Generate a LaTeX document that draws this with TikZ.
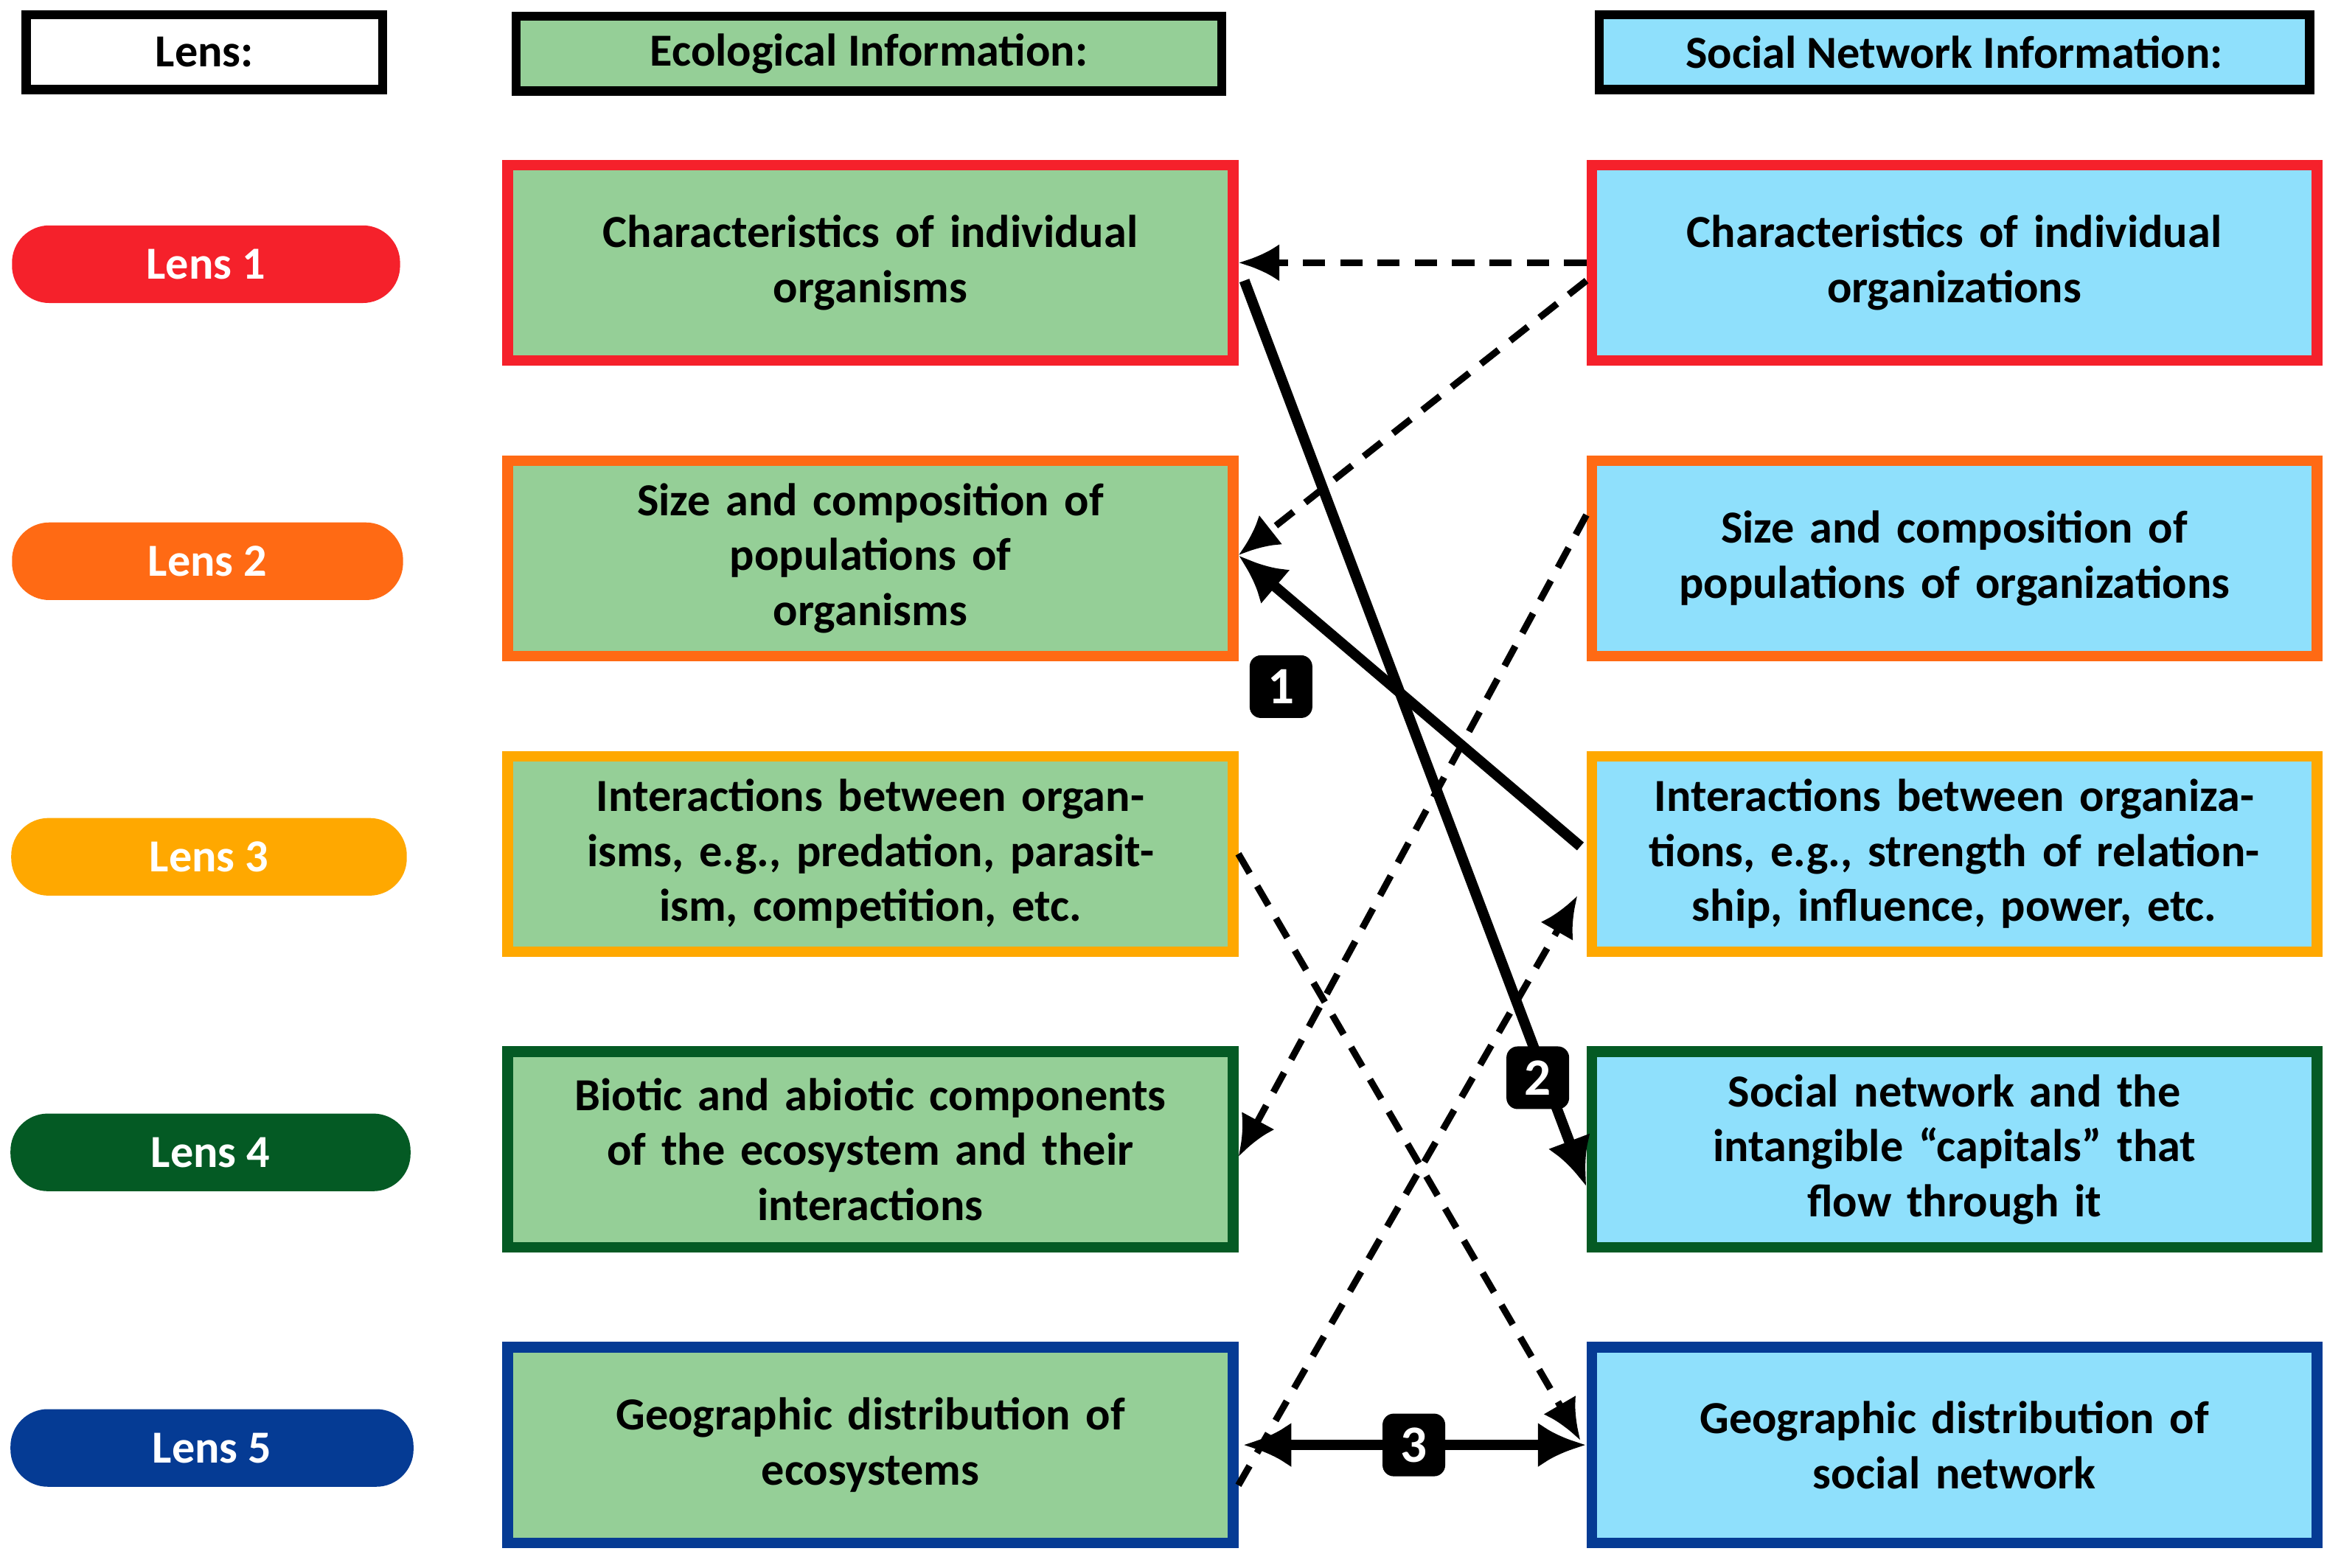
\documentclass[tikz,border=0pt]{standalone}
\usepackage{fontspec}
\setmainfont{Carlito}
\usetikzlibrary{arrows.meta,calc}
\definecolor{cred}{HTML}{F5212B}
\definecolor{corg}{HTML}{FF6A14}
\definecolor{cyel}{HTML}{FFA800}
\definecolor{cdg}{HTML}{045A24}
\definecolor{cblu}{HTML}{053B94}
\definecolor{gfill}{HTML}{95CF97}
\definecolor{bfill}{HTML}{8FE0FC}
\tikzset{
  box/.style={draw, line width=0.14cm, minimum width=9.72cm, minimum height=2.62cm, text width=9.2cm, align=center, font=\fontsize{17.5}{21}\selectfont\bfseries, inner sep=0pt},
  lbox/.style={box, fill=gfill},
  rbox/.style={box, fill=bfill},
  hdr/.style={draw, line width=0.12cm, minimum height=1.0cm, font=\fontsize{17.5}{21}\selectfont\bfseries, inner sep=0pt},
  pill/.style={rounded corners=0.5cm, minimum height=1.04cm, text=white, font=\fontsize{17.5}{21}\selectfont\bfseries, inner sep=0pt},
  num/.style={fill=black, text=white, rounded corners=0.15cm, minimum size=0.84cm, inner sep=0pt, font=\fontsize{20}{22}\selectfont\bfseries},
  dsh/.style={line width=0.09cm, dash pattern=on 0.3cm off 0.2cm, -{Latex[length=0.55cm,width=0.5cm]}},
  sol/.style={line width=0.14cm, -{Latex[length=0.65cm,width=0.6cm]}},
}
\begin{document}
\begin{tikzpicture}[x=0.02cm,y=-0.02cm]
\useasboundingbox (0,0) rectangle (1568,1050);
\node[hdr, minimum width=4.78cm, fill=white] (h0) at (137,35) {Lens:};
\node[hdr, minimum width=9.46cm, fill=gfill] (h1) at (582,36) {Ecological Information:};
\node[hdr, minimum width=9.52cm, fill=bfill] (h2) at (1309,35) {Social Network Information:};
\node[pill, fill=cred, minimum width=5.2cm] (p1) at (138,177) {Lens 1};
\node[pill, fill=corg, minimum width=5.24cm] (p2) at (139,376) {Lens 2};
\node[pill, fill=cyel, minimum width=5.3cm] (p3) at (140,574) {Lens 3};
\node[pill, fill=cdg, minimum width=5.36cm] (p4) at (141,772) {Lens 4};
\node[pill, fill=cblu, minimum width=5.4cm] (p5) at (142,970) {Lens 5};
\node[lbox, draw=cred] (l1) at (583,176) {Characteristics of individual\\organisms\\[0.35cm]};
\node[lbox, draw=corg] (l2) at (583,374) {Size and composition of\\populations of\\organisms};
\node[lbox, draw=cyel] (l3) at (583,572) {Interactions between organ-\\isms, e.g., predation, parasit-\\ism, competition, etc.};
\node[lbox, draw=cdg] (l4) at (583,770) {Biotic and abiotic components\\of the ecosystem and their\\interactions};
\node[lbox, draw=cblu] (l5) at (583,968) {Geographic distribution of\\ecosystems};
\node[rbox, draw=cred] (r1) at (1309,176) {Characteristics of individual\\organizations};
\node[rbox, draw=corg] (r2) at (1309,374) {Size and composition of\\populations of organizations};
\node[rbox, draw=cyel] (r3) at (1309,572) {Interactions between organiza-\\tions, e.g., strength of relation-\\ship, influence, power, etc.};
\node[rbox, draw=cdg] (r4) at (1309,770) {Social network and the\\intangible “capitals” that\\flow through it};
\node[rbox, draw=cblu] (r5) at (1309,968) {Geographic distribution of\\social network};
% arrows
\draw[dsh] (r1.west) -- (l1.east);
\draw[dsh] ($(r1.west)+(0,12)$) -- ($(l2.east)+(0,-2)$);
\draw[dsh] ($(r2.west)+(0,-29)$) -- ($(l4.east)+(0,5)$);
\draw[dsh] ($(l3.east)+(0,0)$) -- ($(r5.west)+(-4,-3)$);
\draw[dsh] ($(l5.east)+(0,27)$) -- ($(r3.west)+(-6,28)$);
\draw[sol] ($(l1.east)+(4,12)$) -- ($(r4.west)+(0,25)$);
\draw[sol] ($(r3.west)+(-4,-5)$) -- ($(l2.east)+(0,-2)$);
\draw[line width=0.14cm, {Latex[length=0.65cm,width=0.6cm]}-{Latex[length=0.65cm,width=0.6cm]}] ($(l5.east)+(3,0)$) -- ($(r5.west)+(0,0)$);
\node[num] (n1) at (858,460) {1};
\node[num] (n2) at (1030,722) {2};
\node[num] (n3) at (947,968) {3};
\end{tikzpicture}
\end{document}
